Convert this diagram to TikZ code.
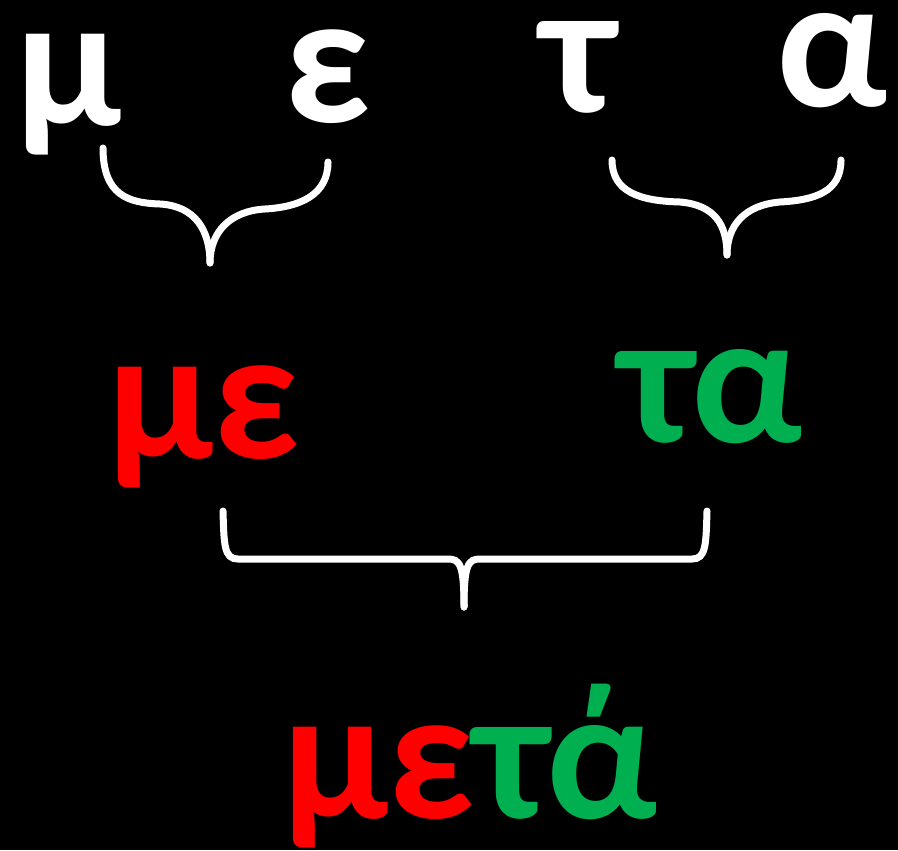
\documentclass[tikz,border=0pt]{standalone}
\usepackage{fontspec}
\setmainfont{Carlito}
\usepackage{tikz}
\usetikzlibrary{calc}

\definecolor{wordred}{HTML}{FF0000}
\definecolor{wordgreen}{HTML}{00B050}

\begin{document}
\begin{tikzpicture}[x=0.6pt,y=-0.6pt,
  letter/.style={anchor=base,inner sep=0pt,text height=0.5em,text depth=0.2em,
    font=\fontsize{113}{115}\selectfont\bfseries},
  brace/.style={white,line width=4.2pt,line cap=round}]

% Background
\fill[black] (0,0) rectangle (898,850);
\useasboundingbox (0,0) rectangle (898,850);

% Single letters
\node[letter,white] (mu) at (69,125) {μ};
\node[letter,white] (eps) at (328,122) {ε};
\node[letter,white] (tau) at (578,112) {τ};
\node[letter,white] (alpha) at (832,106) {α};

% Upper braces
\draw[brace] (103,148) .. controls (103,195) and (128,203) .. (160,204)
  .. controls (195,206) and (210,230) .. (210,263);
\draw[brace] (328,162) .. controls (328,195) and (300,207) .. (265,209)
  .. controls (230,211) and (210,232) .. (210,263);
\draw[brace] (612,160) .. controls (612,192) and (640,201) .. (680,202)
  .. controls (715,205) and (727,225) .. (727,255);
\draw[brace] (841,160) .. controls (841,192) and (815,200) .. (780,202)
  .. controls (745,205) and (727,225) .. (727,255);

% Syllables
\node[letter,wordred] (me) at (204,458) {με};
\node[letter,wordgreen] (ta) at (711,442) {τα};

% Lower brace
\draw[brace] (223,511) .. controls (224,545) and (224,559) .. (238,559) -- (448,559)
  .. controls (460,559) and (464,565) .. (464,607);
\draw[brace] (707,511) .. controls (706,545) and (706,559) .. (692,559) -- (480,559)
  .. controls (468,559) and (464,565) .. (464,607);

% Whole word
\node[letter] (meta) at (470,818) {\textcolor{wordred}{με}\textcolor{wordgreen}{τά}};

\end{tikzpicture}
\end{document}
